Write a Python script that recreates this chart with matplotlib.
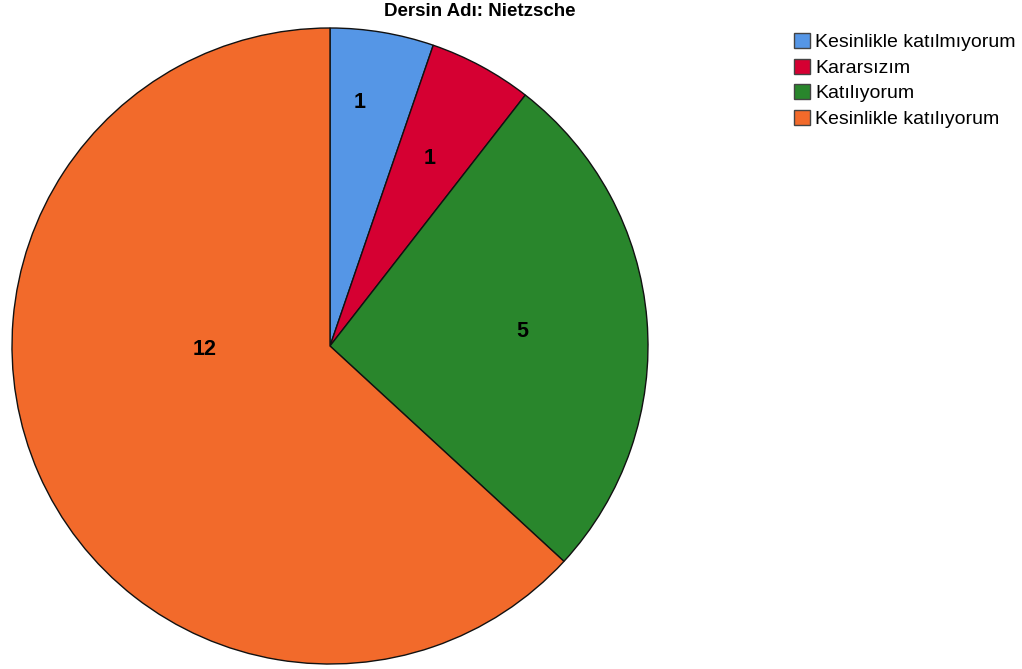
import matplotlib.pyplot as plt

# 数据
categories = ["Kesinlikle katılmıyorum", "Kararsızım", "Katılıyorum", "Kesinlikle katılıyorum"]
counts = [1, 1, 5, 12]
colors = ["#5596E6", "#D50032", "#29862C", "#F26A2B"]
# 标签位置 (以半径为单位)
label_pos = [(0.094, 0.765), (0.314, 0.591), (0.604, 0.045), (-0.393, -0.011)]

plt.rcParams['font.family'] = ['Liberation Sans', 'DejaVu Sans']

fig = plt.figure(figsize=(10.22, 6.69), dpi=100)
ax = fig.add_axes([12/1022, 5/669, 636/1022, 636/669])

wedges, texts, autotexts = ax.pie(
    counts, colors=colors, startangle=90, counterclock=False,
    autopct=lambda p: "%d" % round(p * sum(counts) / 100),
    wedgeprops=dict(edgecolor="#111111", linewidth=1.0),
    textprops=dict(fontsize=15.5, fontweight="bold", color="black"))

for t, pos in zip(autotexts, label_pos):
    t.set_position(pos)
    t.set_ha("center")
    t.set_va("center")

ax.set_xlim(-1, 1)
ax.set_ylim(-1, 1)
ax.set_aspect("equal")
ax.axis("off")

fig.text(480/1022, 1 - 11/669, "Dersin Adı: Nietzsche", ha="center", va="center",
         fontsize=13.5, fontweight="bold")

fig.legend(wedges, categories, loc="upper left", bbox_to_anchor=(794/1022, 1 - 33/669),
           frameon=False, fontsize=14, borderpad=0, borderaxespad=0,
           labelspacing=0.37, handlelength=0.82, handleheight=0.82, handletextpad=0.26)
for h in fig.legends[0].legend_handles:
    h.set_edgecolor("#444444")
    h.set_linewidth(1.0)

plt.savefig("out.png", dpi=100)
